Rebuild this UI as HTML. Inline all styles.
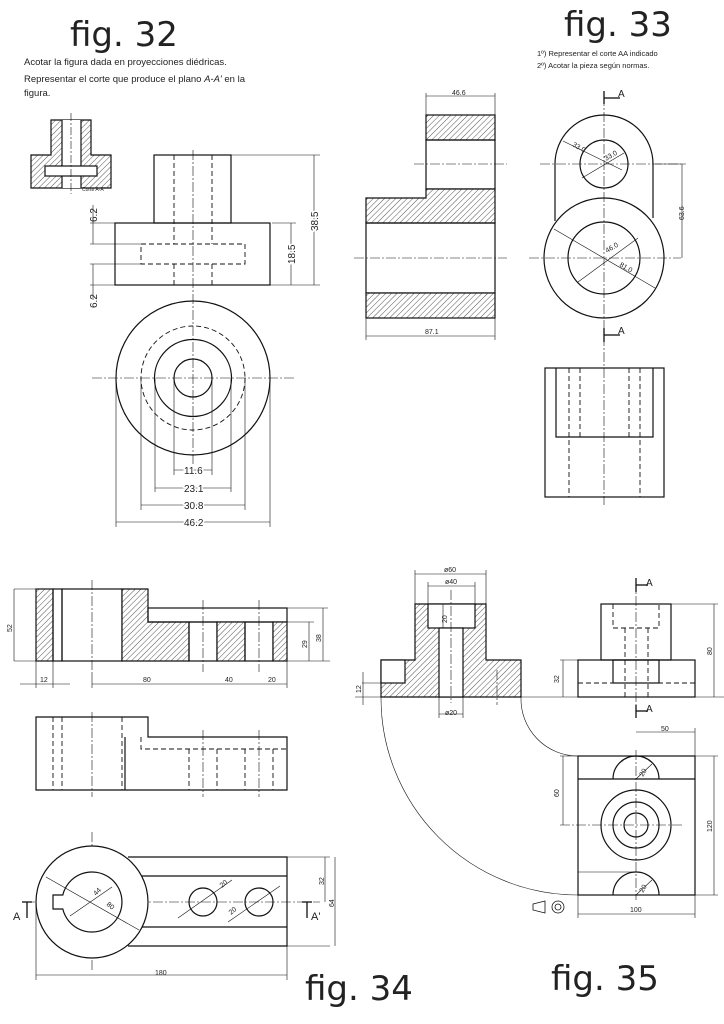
<!DOCTYPE html>
<html><head><meta charset="utf-8"><style>
html,body{margin:0;padding:0;background:#fff}
svg{display:block}
text{font-family:"Liberation Sans",sans-serif;fill:#222}
</style></head><body>
<svg width="724" height="1024" viewBox="0 0 724 1024" xmlns="http://www.w3.org/2000/svg">
<defs>
<pattern id="h" width="4" height="4" patternUnits="userSpaceOnUse" patternTransform="rotate(45)">
<rect width="4" height="4" fill="#fff"/><line x1="0" y1="0" x2="0" y2="4" stroke="#555" stroke-width="1"/>
</pattern>
</defs>
<text x="70" y="46" font-size="34" style="font-family:'DejaVu Sans',sans-serif">fig. 32</text>
<text x="564" y="36" font-size="34" style="font-family:'DejaVu Sans',sans-serif">fig. 33</text>
<text x="305" y="1000" font-size="34" style="font-family:'DejaVu Sans',sans-serif">fig. 34</text>
<text x="551" y="990" font-size="34" style="font-family:'DejaVu Sans',sans-serif">fig. 35</text>
<text x="24" y="65" font-size="9.5">Acotar la figura dada en proyecciones diédricas.</text>
<text x="24" y="82" font-size="9.5">Representar el corte que produce el plano <tspan font-style="italic">A-A'</tspan> en la</text>
<text x="24" y="96" font-size="9.5">figura.</text>
<text x="537" y="56" font-size="7.5">1º) Representar el corte AA indicado</text>
<text x="537" y="68" font-size="7.5">2º) Acotar la pieza según normas.</text>

<!-- FIG 32 -->
<g stroke="#111" fill="none" stroke-width="1.2">
<path d="M51 120H91V155H111V188H31V155H51Z" fill="url(#h)"/>
<rect x="62" y="120" width="19" height="68" fill="#fff" stroke="none"/>
<line x1="62" y1="120" x2="62" y2="188"/><line x1="81" y1="120" x2="81" y2="188"/>
<rect x="45" y="166" width="52" height="10" fill="#fff"/>
<line x1="71" y1="113" x2="71" y2="194" stroke-width="0.6" stroke-dasharray="8 2 2 2"/>
<rect x="154" y="155" width="77" height="68"/>
<rect x="115" y="223" width="155" height="62"/>
<g stroke-dasharray="5 3" stroke-width="0.9">
<rect x="141" y="244" width="104" height="20"/>
<line x1="174" y1="155" x2="174" y2="244"/><line x1="212" y1="155" x2="212" y2="244"/>
<line x1="174" y1="264" x2="174" y2="285"/><line x1="212" y1="264" x2="212" y2="285"/>
</g>
<g stroke-width="0.6" stroke-dasharray="10 2 2 2">
<line x1="193" y1="150" x2="193" y2="470"/>
<line x1="92" y1="378" x2="295" y2="378"/>
</g>
<circle cx="193" cy="378" r="77"/>
<circle cx="193" cy="378" r="52" stroke-dasharray="5 3" stroke-width="0.9"/>
<circle cx="193" cy="378" r="38.5"/>
<circle cx="193" cy="378" r="19"/>
<g stroke-width="0.6">
<line x1="231" y1="155" x2="320" y2="155"/><line x1="270" y1="285" x2="320" y2="285"/>
<line x1="314" y1="155" x2="314" y2="285"/>
<line x1="272" y1="223" x2="296" y2="223"/><line x1="291" y1="223" x2="291" y2="285"/>
<line x1="90" y1="223" x2="115" y2="223"/><line x1="90" y1="244" x2="141" y2="244"/><line x1="90" y1="264" x2="141" y2="264"/><line x1="90" y1="285" x2="115" y2="285"/>
<line x1="93" y1="205" x2="93" y2="244"/><line x1="93" y1="264" x2="93" y2="300"/>
<line x1="174" y1="378" x2="174" y2="475"/><line x1="212" y1="378" x2="212" y2="475"/>
<line x1="155" y1="378" x2="155" y2="492"/><line x1="231" y1="378" x2="231" y2="492"/>
<line x1="141" y1="378" x2="141" y2="510"/><line x1="245" y1="378" x2="245" y2="510"/>
<line x1="116" y1="378" x2="116" y2="527"/><line x1="270" y1="378" x2="270" y2="527"/>
<line x1="174" y1="470" x2="212" y2="470"/><line x1="155" y1="488" x2="231" y2="488"/>
<line x1="141" y1="505" x2="245" y2="505"/><line x1="116" y1="522" x2="270" y2="522"/>
</g>
</g>
<g font-size="10">
<text x="184" y="474" stroke="#fff" stroke-width="3" style="paint-order:stroke">11.6</text>
<text x="184" y="492" stroke="#fff" stroke-width="3" style="paint-order:stroke">23.1</text>
<text x="184" y="509" stroke="#fff" stroke-width="3" style="paint-order:stroke">30.8</text>
<text x="184" y="526" stroke="#fff" stroke-width="3" style="paint-order:stroke">46.2</text>
<text transform="translate(97,222) rotate(-90)">6.2</text>
<text transform="translate(97,308) rotate(-90)">6.2</text>
<text transform="translate(295,264) rotate(-90)" stroke="#fff" stroke-width="3" style="paint-order:stroke">18.5</text>
<text transform="translate(318,231) rotate(-90)" stroke="#fff" stroke-width="3" style="paint-order:stroke">38.5</text>
</g>
<text x="82" y="191" font-size="5">Corte A-A'</text>

<!-- FIG 33 -->
<g stroke="#111" fill="none" stroke-width="1.2">
<rect x="426" y="115" width="69" height="25" fill="url(#h)"/>
<rect x="426" y="140" width="69" height="49"/>
<path d="M426 189H495V223H366V198H426Z" fill="url(#h)"/>
<rect x="366" y="223" width="129" height="70"/>
<rect x="366" y="293" width="129" height="25" fill="url(#h)"/>
<g stroke-width="0.6" stroke-dasharray="10 2 2 2">
<line x1="414" y1="164" x2="507" y2="164"/><line x1="354" y1="258" x2="507" y2="258"/>
<line x1="540" y1="164" x2="681" y2="164"/><line x1="529" y1="258" x2="681" y2="258"/>
<line x1="604" y1="96" x2="604" y2="505"/>
</g>
<path d="M555 164A49 49 0 0 1 653 164V218M555 164V221"/>
<circle cx="604" cy="164" r="24"/>
<circle cx="604" cy="258" r="60"/>
<circle cx="604" cy="258" r="36"/>
<g stroke-width="0.6">
<line x1="426" y1="93" x2="426" y2="115"/><line x1="495" y1="93" x2="495" y2="115"/><line x1="426" y1="96" x2="495" y2="96"/>
<line x1="366" y1="318" x2="366" y2="340"/><line x1="495" y1="318" x2="495" y2="340"/><line x1="366" y1="336" x2="495" y2="336"/>
<line x1="563" y1="141" x2="622" y2="170"/><line x1="582" y1="178" x2="624" y2="153"/>
<line x1="554" y1="229" x2="655" y2="288"/><line x1="578" y1="282" x2="638" y2="238"/>
<line x1="655" y1="164" x2="686" y2="164"/><line x1="682" y1="164" x2="682" y2="258"/>
</g>
<g stroke-width="1.3"><line x1="604" y1="91" x2="604" y2="104"/><line x1="604" y1="98" x2="620" y2="98"/>
<line x1="604" y1="328" x2="604" y2="342"/><line x1="604" y1="335" x2="620" y2="335"/></g>
<rect x="545" y="368" width="119" height="129"/>
<path d="M556 368V437H653V368"/>
<g stroke-dasharray="5 3" stroke-width="0.9">
<line x1="569" y1="368" x2="569" y2="497"/><line x1="580" y1="368" x2="580" y2="437"/>
<line x1="629" y1="368" x2="629" y2="437"/><line x1="640" y1="368" x2="640" y2="497"/>
</g>
</g>
<g font-size="7">
<text x="452" y="95">46.6</text><text x="425" y="334">87.1</text>
<text x="618" y="97" font-size="10">A</text><text x="618" y="334" font-size="10">A</text>
<text transform="translate(572,146) rotate(28)">33.0</text>
<text transform="translate(606,161) rotate(-30)">33.0</text>
<text transform="translate(607,253) rotate(-30)">46.0</text>
<text transform="translate(619,266) rotate(30)">81.0</text>
<text transform="translate(684,220) rotate(-90)">63.6</text>
</g>

<!-- FIG 34 -->
<g stroke="#111" fill="none" stroke-width="1.2">
<rect x="36" y="589" width="17" height="72" fill="url(#h)"/>
<rect x="53" y="589" width="9" height="72"/>
<rect x="62" y="589" width="60" height="72"/>
<path d="M122 589H148V622H189V661H122Z" fill="url(#h)"/>
<rect x="148" y="608" width="139" height="14"/>
<rect x="189" y="622" width="28" height="39"/>
<rect x="217" y="622" width="28" height="39" fill="url(#h)"/>
<rect x="245" y="622" width="28" height="39"/>
<rect x="273" y="622" width="14" height="39" fill="url(#h)"/>
<path d="M36 717H148V737H287V790H36Z"/>
<line x1="125" y1="737" x2="125" y2="790"/>
<g stroke-dasharray="5 3" stroke-width="0.9">
<line x1="53" y1="717" x2="53" y2="790"/><line x1="62" y1="717" x2="62" y2="790"/><line x1="122" y1="717" x2="122" y2="790"/>
<path d="M141 737V749H287"/>
<line x1="189" y1="749" x2="189" y2="790"/><line x1="217" y1="749" x2="217" y2="790"/>
<line x1="245" y1="749" x2="245" y2="790"/><line x1="273" y1="749" x2="273" y2="790"/>
</g>
<g stroke-width="0.6" stroke-dasharray="10 2 2 2">
<line x1="92" y1="580" x2="92" y2="672"/><line x1="203" y1="600" x2="203" y2="672"/><line x1="259" y1="600" x2="259" y2="672"/>
<line x1="92" y1="712" x2="92" y2="797"/><line x1="203" y1="730" x2="203" y2="797"/><line x1="259" y1="730" x2="259" y2="797"/>
<line x1="92" y1="832" x2="92" y2="970"/>
<line x1="25" y1="902" x2="320" y2="902"/>
</g>
<path d="M128 857H287V946H128"/>
<line x1="128" y1="876" x2="287" y2="876"/><line x1="128" y1="927" x2="287" y2="927"/>
<circle cx="92" cy="902" r="56" fill="#fff"/>
<path d="M62.8 895H53V909H62.8A30 30 0 1 0 62.8 895Z"/>
<circle cx="203" cy="902" r="14"/><circle cx="259" cy="902" r="14"/>
<g stroke-width="0.6">
<line x1="46" y1="877" x2="139" y2="930"/><line x1="70" y1="916" x2="112" y2="887"/>
<line x1="178" y1="918" x2="232" y2="880"/><line x1="228" y1="922" x2="280" y2="886"/>
<line x1="14" y1="589" x2="36" y2="589"/><line x1="14" y1="661" x2="330" y2="661"/><line x1="14" y1="589" x2="14" y2="661"/>
<line x1="287" y1="608" x2="328" y2="608"/><line x1="287" y1="622" x2="314" y2="622"/>
<line x1="309" y1="622" x2="309" y2="661"/><line x1="323" y1="608" x2="323" y2="661"/>
<line x1="36" y1="661" x2="36" y2="688"/><line x1="53" y1="661" x2="53" y2="688"/><line x1="92" y1="672" x2="92" y2="688"/>
<line x1="287" y1="661" x2="287" y2="688"/>
<line x1="20" y1="684" x2="70" y2="684"/><line x1="92" y1="684" x2="287" y2="684"/>
<line x1="287" y1="946" x2="330" y2="946"/><line x1="287" y1="857" x2="330" y2="857"/>
<line x1="325" y1="857" x2="325" y2="902"/><line x1="335" y1="857" x2="335" y2="946"/>
<line x1="36" y1="902" x2="36" y2="980"/><line x1="287" y1="946" x2="287" y2="980"/>
<line x1="36" y1="975" x2="287" y2="975"/>
</g>
<g stroke-width="1.3"><line x1="27" y1="902" x2="27" y2="918"/><line x1="307" y1="902" x2="307" y2="918"/>
<line x1="22" y1="902" x2="32" y2="902"/><line x1="302" y1="902" x2="312" y2="902"/></g>
</g>
<g font-size="7">
<text transform="translate(12,632) rotate(-90)">52</text>
<text transform="translate(307,648) rotate(-90)">29</text>
<text transform="translate(321,642) rotate(-90)">38</text>
<text x="40" y="682">12</text><text x="143" y="682">80</text><text x="225" y="682">40</text><text x="268" y="682">20</text>
<text x="155" y="975">180</text>
<text transform="translate(96,896) rotate(-45)">44</text>
<text transform="translate(106,905) rotate(40)">80</text>
<text transform="translate(222,888) rotate(-40)">20</text>
<text transform="translate(231,915) rotate(-40)">20</text>
<text transform="translate(324,885) rotate(-90)">32</text>
<text transform="translate(334,907) rotate(-90)">64</text>
<text x="13" y="920" font-size="11">A</text><text x="311" y="920" font-size="11">A'</text>
</g>

<!-- FIG 35 -->
<g stroke="#111" fill="none" stroke-width="1.2">
<path d="M415 604H486V660H521V697H381V660H415Z" fill="url(#h)"/>
<rect x="381" y="660" width="24" height="23" fill="#fff"/>
<rect x="428" y="604" width="47" height="24" fill="#fff"/>
<rect x="439" y="628" width="24" height="69" fill="#fff"/>
<rect x="578" y="660" width="117" height="37"/>
<rect x="601" y="604" width="70" height="56"/>
<rect x="613" y="660" width="46" height="23"/>
<g stroke-dasharray="5 3" stroke-width="0.9">
<path d="M613 604V628H659V604"/>
<line x1="625" y1="628" x2="625" y2="697"/><line x1="648" y1="628" x2="648" y2="697"/>
<line x1="578" y1="683" x2="695" y2="683"/>
</g>
<rect x="578" y="756" width="117" height="139"/>
<line x1="578" y1="779" x2="695" y2="779"/>
<line x1="578" y1="872" x2="636" y2="872" stroke-width="0.6"/>
<path d="M613 779A23 23 0 0 1 659 779"/>
<path d="M613 895A23 23 0 0 1 659 895"/>
<circle cx="636" cy="825" r="35"/><circle cx="636" cy="825" r="23"/><circle cx="636" cy="825" r="12"/>
<g stroke-width="0.6" stroke-dasharray="10 2 2 2">
<line x1="451" y1="590" x2="451" y2="703"/><line x1="497" y1="670" x2="497" y2="705"/>
<line x1="636" y1="580" x2="636" y2="715"/><line x1="636" y1="750" x2="636" y2="900"/>
<line x1="560" y1="825" x2="683" y2="825"/><line x1="600" y1="779" x2="672" y2="779"/>
</g>
<g stroke-width="0.6">
<path d="M381 697A197 197 0 0 0 578 895"/>
<path d="M521 697A57 57 0 0 0 578 756"/>
<line x1="355" y1="697" x2="724" y2="697"/>
<line x1="415" y1="570" x2="415" y2="604"/><line x1="486" y1="570" x2="486" y2="604"/><line x1="415" y1="574" x2="486" y2="574"/>
<line x1="428" y1="582" x2="428" y2="604"/><line x1="475" y1="582" x2="475" y2="604"/><line x1="428" y1="586" x2="475" y2="586"/>
<line x1="439" y1="697" x2="439" y2="718"/><line x1="463" y1="697" x2="463" y2="718"/><line x1="439" y1="714" x2="463" y2="714"/>
<line x1="443" y1="604" x2="443" y2="628"/>
<line x1="362" y1="683" x2="381" y2="683"/><line x1="363" y1="672" x2="363" y2="705"/>
<line x1="560" y1="660" x2="578" y2="660"/><line x1="563" y1="660" x2="563" y2="697"/>
<line x1="671" y1="604" x2="718" y2="604"/><line x1="714" y1="604" x2="714" y2="697"/>
<line x1="636" y1="732" x2="695" y2="732"/><line x1="695" y1="728" x2="695" y2="756"/>
<line x1="560" y1="756" x2="578" y2="756"/><line x1="563" y1="756" x2="563" y2="825"/>
<line x1="695" y1="756" x2="718" y2="756"/><line x1="695" y1="895" x2="718" y2="895"/><line x1="714" y1="756" x2="714" y2="895"/>
<line x1="578" y1="895" x2="578" y2="918"/><line x1="695" y1="895" x2="695" y2="918"/><line x1="578" y1="914" x2="695" y2="914"/>
<line x1="636" y1="779" x2="652" y2="764"/><line x1="636" y1="895" x2="652" y2="880"/>
</g>
<g stroke-width="1.3"><line x1="636" y1="578" x2="636" y2="592"/><line x1="636" y1="585" x2="648" y2="585"/>
<line x1="636" y1="705" x2="636" y2="718"/><line x1="636" y1="711" x2="648" y2="711"/></g>
<path d="M533 904L545 901V913L533 910Z" stroke-width="0.8"/>
<circle cx="558" cy="907" r="6" stroke-width="0.8"/><circle cx="558" cy="907" r="3" stroke-width="0.8"/>
</g>
<g font-size="7">
<text x="444" y="572">ø60</text><text x="445" y="584">ø40</text><text x="445" y="715">ø20</text>
<text transform="translate(447,623) rotate(-90)">20</text>
<text transform="translate(361,693) rotate(-90)">12</text>
<text transform="translate(559,683) rotate(-90)">32</text>
<text transform="translate(712,655) rotate(-90)">80</text>
<text transform="translate(559,797) rotate(-90)">60</text>
<text transform="translate(712,832) rotate(-90)">120</text>
<text x="661" y="731">50</text><text x="630" y="912">100</text>
<text x="646" y="586" font-size="10">A</text><text x="646" y="712" font-size="10">A</text>
<text transform="translate(643,777) rotate(-60)">20</text>
<text transform="translate(643,893) rotate(-60)">20</text>
</g>
</svg>
</body></html>
